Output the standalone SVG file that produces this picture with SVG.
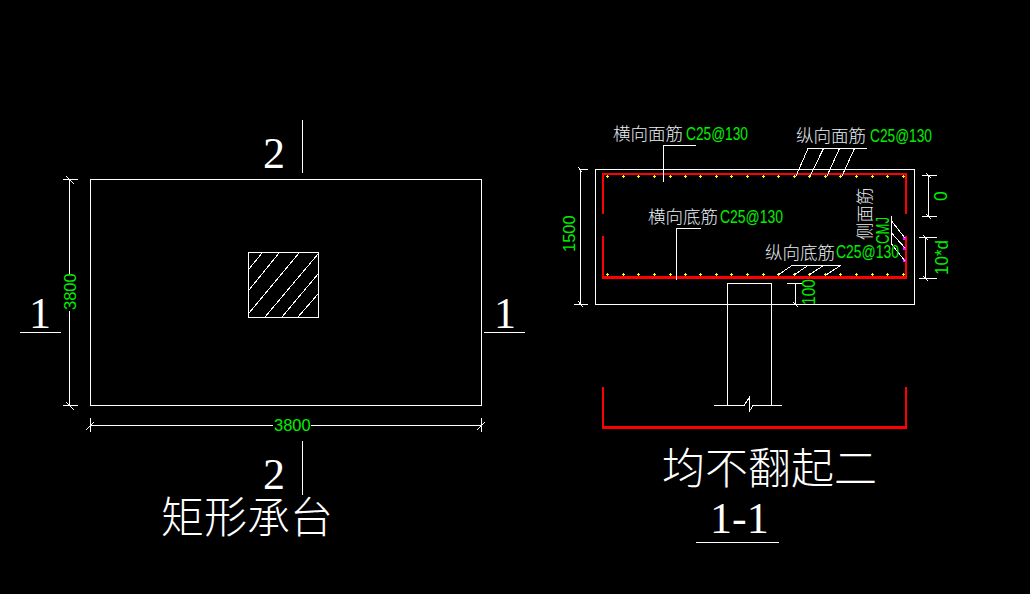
<svg xmlns="http://www.w3.org/2000/svg" width="1030" height="594" viewBox="0 0 1030 594">
<style>
.l{fill:none;stroke:#fff;stroke-width:1;shape-rendering:crispEdges}
.r{fill:none;stroke:#f00;stroke-width:2.5;shape-rendering:crispEdges}
.g{fill:#00f000;font-family:"Liberation Sans",Arial,sans-serif;font-size:16.5px}
.s{font-size:17.5px}
.c{fill:#e8eef4;font-family:"Noto Sans CJK SC",sans-serif;font-size:17.5px;font-weight:300}
.t{fill:#fff;font-family:"Noto Sans CJK SC",sans-serif;font-size:43px;font-weight:300}
.n{fill:#fff;font-family:"Liberation Serif",serif;font-size:44px}
.y{fill:none;stroke:#ff0;stroke-width:1;shape-rendering:crispEdges}
</style>
<defs>
<path id="d" class="y" d="M-1 .5H2M.5 -1V2"/>
</defs>
<rect width="1030" height="594" fill="#000"/>

<g id="plan">
<rect class="l" x="90.5" y="179.5" width="391" height="226"/>
</g>
<g id="plan-column">
<rect class="l" x="248.5" y="252.5" width="70" height="65"/>
<path class="l" d="M249 269L262 253M249 290L279 253M249 313L299 253M265 317L318 254M282 317L318 274M298 317L318 294"/>
</g>
<g id="plan-dimensions">
<path class="l" d="M69.5 179V274M69.5 311V405M63 179.5H78M63 405.5H78M66 176L74 184M66 402L74 410"/>
<path class="l" d="M90 425.5H273M311 425.5H481M90.5 418V432M481.5 418V432M86 430L94 422M477 430L485 422"/>
<text class="g" transform="translate(76 310) rotate(-90)">3800</text>
<text class="g" x="274" y="431">3800</text>
</g>
<g id="section-marks">
<path class="l" d="M302.5 120V173M302.5 441V495M20 332.5H61M484 332.5H525"/>
<text class="n" x="263" y="168">2</text>
<text class="n" x="263" y="489">2</text>
<text class="n" x="29" y="328">1</text>
<text class="n" x="494" y="328">1</text>
</g>
<g id="plan-title"><text class="t" x="161" y="533">矩形承台</text></g>

<g id="section">
<rect class="l" x="595.5" y="169.5" width="319" height="135"/>
</g>
<g id="section-column">
<path class="l" d="M727.5 405V283.5H771.5V405M714 405.5H744L749 398L749 412L753 405.5H782"/>
</g>
<g id="rebar">
<path class="r" d="M603 214V174H906V214M603 236V277.5H906V236M603 387V427.5H906V387"/>
</g>
<g id="rebar-dots-top">
<use href="#d" x="607" y="176"/><use href="#d" x="623" y="176"/><use href="#d" x="638" y="176"/><use href="#d" x="654" y="176"/><use href="#d" x="670" y="176"/><use href="#d" x="685" y="176"/><use href="#d" x="700" y="176"/><use href="#d" x="716" y="176"/><use href="#d" x="731" y="176"/><use href="#d" x="747" y="176"/><use href="#d" x="763" y="176"/><use href="#d" x="778" y="176"/><use href="#d" x="794" y="176"/><use href="#d" x="809" y="176"/><use href="#d" x="825" y="176"/><use href="#d" x="840" y="176"/><use href="#d" x="856" y="176"/><use href="#d" x="872" y="176"/><use href="#d" x="887" y="176"/><use href="#d" x="903" y="176"/>
</g>
<g id="rebar-dots-bottom">
<use href="#d" x="607" y="274"/><use href="#d" x="623" y="274"/><use href="#d" x="638" y="274"/><use href="#d" x="654" y="274"/><use href="#d" x="670" y="274"/><use href="#d" x="685" y="274"/><use href="#d" x="700" y="274"/><use href="#d" x="716" y="274"/><use href="#d" x="731" y="274"/><use href="#d" x="747" y="274"/><use href="#d" x="763" y="274"/><use href="#d" x="778" y="274"/><use href="#d" x="794" y="274"/><use href="#d" x="809" y="274"/><use href="#d" x="825" y="274"/><use href="#d" x="840" y="274"/><use href="#d" x="856" y="274"/><use href="#d" x="872" y="274"/><use href="#d" x="887" y="274"/><use href="#d" x="903" y="274"/>
</g>
<g id="side-bar-dots" fill="#f0f">
<rect x="903" y="237" width="3" height="3"/><rect x="903" y="247" width="3" height="3"/><rect x="903" y="259" width="3" height="3"/>
</g>
<g id="leaders">
<path class="l" d="M695.5 145.5H663.5V182"/>
<path class="l" d="M866.5 148.5H808M808 148.5L796 176M823.5 148.5L810 176M839.5 148.5L827 176M854.5 148.5L842 176"/>
<path class="l" d="M700.5 228.5H676.5V280"/>
<path class="l" d="M840.5 265.5H792M792 265.5L778 275M808 265.5L794 275M823.5 265.5L809 275M840.5 265.5L826 275"/>
<path class="l" d="M891.5 216V245M891.5 221L905 238M891.5 233L905 248M891.5 244L905 261"/>
</g>
<g id="section-dimensions">
<path class="l" d="M580.5 169V304M580 169.5H588M574 304.5H588M578 301L583 307M578 167L582 172"/>
<path class="l" d="M928.5 175V217M922 175.5H937M922 216.5H937M926 173L931 178M926 214L931 219"/>
<path class="l" d="M925.5 237V278M919 237.5H937M919 278.5H937M923 235L928 240M923 276L928 281"/>
<path class="l" d="M795.5 283V305M787 283.5H802M793 302L798 307"/>
<text class="g" transform="translate(575 252) rotate(-90)">1500</text>
<text class="g s" transform="translate(947 201) rotate(-90)">0</text>
<text class="g s" transform="translate(948 275) rotate(-90)" textLength="35" lengthAdjust="spacingAndGlyphs">10*d</text>
<text class="g s" transform="translate(815 305) rotate(-90)" textLength="26" lengthAdjust="spacingAndGlyphs">100</text>
</g>
<g id="labels">
<text class="c" x="613" y="140">横向面筋</text>
<text class="g s" x="686" y="140" textLength="62" lengthAdjust="spacingAndGlyphs">C25@130</text>
<text class="c" x="796" y="142">纵向面筋</text>
<text class="g s" x="870" y="142" textLength="62" lengthAdjust="spacingAndGlyphs">C25@130</text>
<text class="c" x="648" y="223">横向底筋</text>
<text class="g s" x="720" y="223" textLength="63" lengthAdjust="spacingAndGlyphs">C25@130</text>
<text class="c" x="765" y="259">纵向底筋</text>
<text class="g s" x="836" y="258" textLength="63" lengthAdjust="spacingAndGlyphs">C25@130</text>
<text class="c" transform="translate(871 240) rotate(-90)">侧面筋</text>
<text class="g s" transform="translate(889 244) rotate(-90)" textLength="27" lengthAdjust="spacingAndGlyphs">CMJ</text>
</g>
<g id="section-title">
<text class="t" x="662" y="484">均不翻起二</text>
<text class="n" x="710" y="533">1-1</text>
<path class="l" d="M696 542.5H779"/>
</g>
</svg>
